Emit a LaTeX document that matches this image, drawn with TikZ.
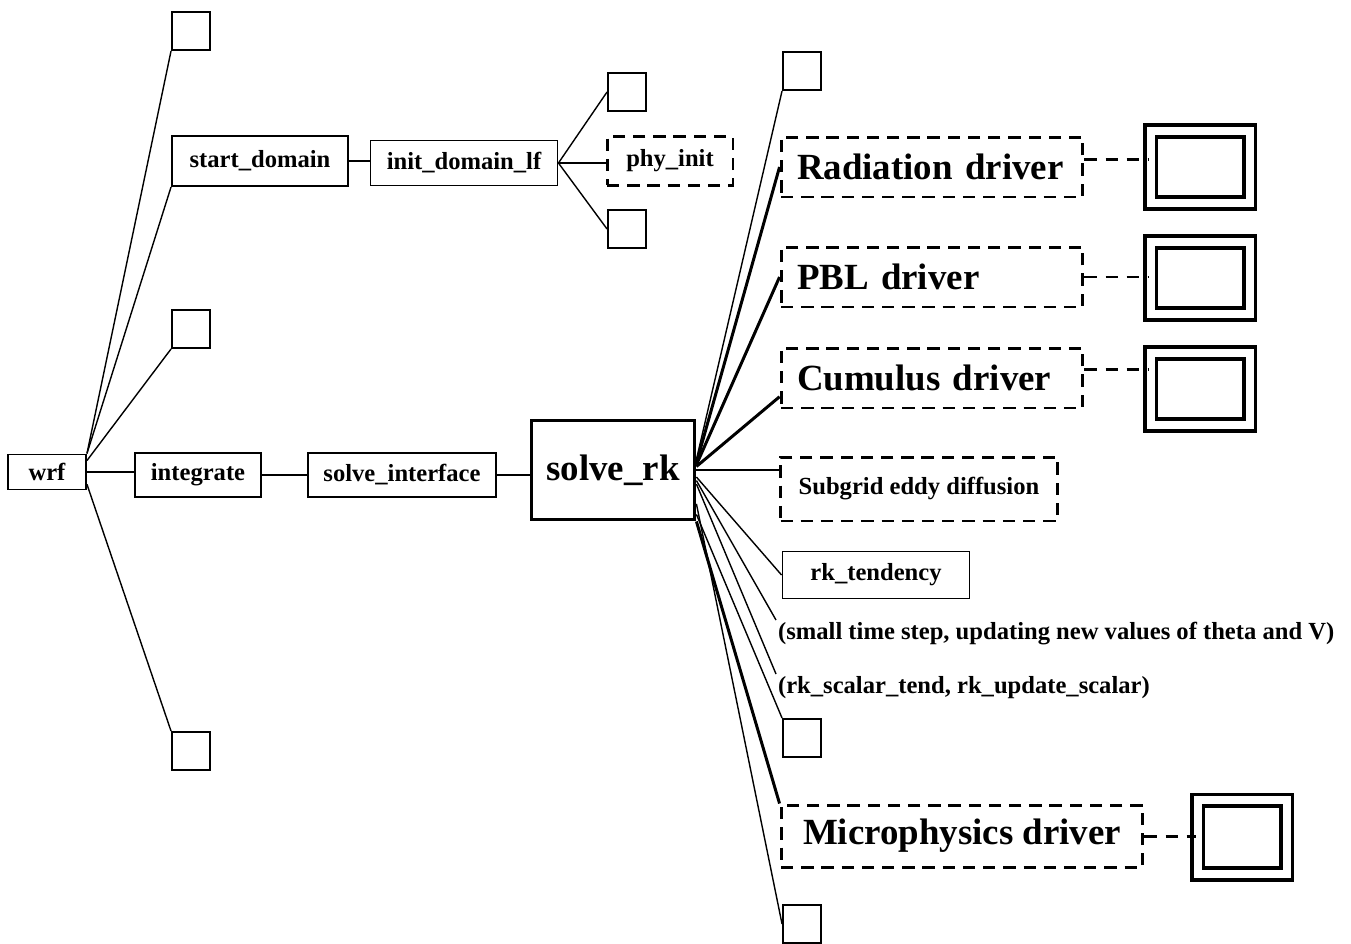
\documentclass[tikz,border=0pt]{standalone}
\usepackage{fontspec}
\setmainfont{Liberation Serif}
\tikzset{lbl/.style={font=\fontsize{14}{16}\selectfont\bfseries},
  big/.style={font=\fontsize{21}{24}\selectfont\bfseries},
  box/.style={draw, line width=1.1pt, inner sep=0pt, lbl},
  sq/.style={draw, line width=1.1pt, minimum size=0.76cm, inner sep=0pt},
  dbox/.style={draw, line width=1.7pt, dash pattern=on 7pt off 4.5pt, inner sep=0pt},
  drv/.style={dbox, big, minimum height=1.2cm, text width=5.4cm, inner xsep=0.32cm, align=left},
  dbl/.style={draw, double, line width=2pt, double distance=0.16cm, inner sep=0pt},
  link/.style={line width=0.8pt},
  heavy/.style={line width=1.7pt},
  dlink/.style={line width=1.7pt, dash pattern=on 7pt off 5pt}}

\begin{document}
\begin{tikzpicture}[x=0.02cm, y=-0.02cm]
  \useasboundingbox (0,0) rectangle (1351,943);
  % left part of the call tree
  \node[box, minimum width=1.56cm, minimum height=0.70cm] (wrf) at (47,472) {wrf};
  \node[sq] (sq1) at (191,31) {};
  \node[box, minimum width=3.52cm, minimum height=1.0cm] (start) at (260,161) {start\_domain};
  \node[box, minimum width=3.74cm, minimum height=0.9cm] (initlf) at (464,163) {init\_domain\_lf};
  \node[sq] (sq2) at (627,92) {};
  \node[dbox, lbl, minimum width=2.52cm, minimum height=0.98cm] (phyinit) at (670,161) {phy\_init};
  \node[sq] (sq3) at (627,229) {};
  \node[sq] (sq4) at (191,329) {};
  \node[box, minimum width=2.52cm, minimum height=0.88cm] (integ) at (198,475) {integrate};
  \node[box, minimum width=3.76cm, minimum height=0.88cm] (solveif) at (402,475) {solve\_interface};
  \node[sq] (sq5) at (191,751) {};
  \node[draw, line width=2.2pt, big, minimum width=3.26cm, minimum height=1.98cm, inner sep=0pt] (rk) at (613,470) {solve\_rk};

  \draw[link] (wrf.north east) -- (sq1.south west);
  \draw[link] (wrf.north east) -- (start.south west);
  \draw[link] ([yshift=-4pt]wrf.north east) -- (sq4.south west);
  \draw[link] (wrf.east) -- (wrf.east -| integ.west);
  \draw[link] ([yshift=-7pt]wrf.east) -- (sq5.north west);
  \draw[link] (start.east) -- (start.east -| initlf.west);
  \draw[link] (initlf.east) -- (sq2.west);
  \draw[link] (initlf.east) -- (initlf.east -| phyinit.west);
  \draw[link] (initlf.east) -- (sq3.west);
  \draw[link] (integ.east) -- (integ.east -| solveif.west);
  \draw[link] (solveif.east) -- (solveif.east -| rk.west);

  % right part: physics drivers
  \node[sq] (sq6) at (802,71) {};
  \node[drv] (rad) at (932,167) {Radiation driver};
  \node[drv] (pbl) at (932,277) {PBL driver};
  \node[drv] (cum) at (932,378) {Cumulus driver};
  \node[dbox, lbl, minimum width=5.54cm, minimum height=1.28cm] (sgs) at (919,489) {Subgrid eddy diffusion};
  \node[box, minimum width=3.74cm, minimum height=0.94cm] (tend) at (876,575) {rk\_tendency};
  \node[lbl, anchor=north west, inner sep=1pt] (small) at (776,620) {(small time step, updating new values of theta and V)};
  \node[lbl, anchor=north west, inner sep=1pt] (scalar) at (776,674) {(rk\_scalar\_tend, rk\_update\_scalar)};
  \node[sq] (sq7) at (802,738) {};
  \node[dbox, big, minimum width=7.24cm, minimum height=1.24cm] (micro) at (962,836) {Microphysics driver};
  \node[sq] (sq8) at (802,924) {};

  \node[dbl, minimum width=1.98cm, minimum height=1.44cm] (rbox) at (1200,167) {};
  \node[dbl, minimum width=1.98cm, minimum height=1.44cm] (pbox) at (1200,278) {};
  \node[dbl, minimum width=1.98cm, minimum height=1.44cm] (cbox) at (1200,389) {};
  \node[dbl, minimum width=1.78cm, minimum height=1.48cm] (mbox) at (1242,837) {};

  \draw[link] ([yshift=6pt]rk.east) -- (sq6.south west);
  \draw[heavy] ([yshift=4pt]rk.east) -- (rad.west);
  \draw[heavy] ([yshift=3pt]rk.east) -- (pbl.west);
  \draw[heavy] ([yshift=2pt]rk.east) -- (cum.187);
  \draw[link] (rk.east) -- (rk.east -| sgs.west);
  \draw[link] ([yshift=-4pt]rk.east) -- (tend.west);
  \draw[link] ([yshift=-6pt]rk.east) -- (small.north west);
  \draw[link] ([yshift=-8pt]rk.east) -- (scalar.north west);
  \draw[link] ([yshift=4pt]rk.south east) -- (sq7.north west);
  \draw[heavy] (rk.south east) -- (micro.north west);
  \draw[link] ([yshift=10pt]rk.south east) -- (sq8.west);

  \draw[dlink] ([yshift=4pt]rad.east) -- ([yshift=4pt]rad.east -| rbox.west);
  \draw[dlink] (pbl.east) -- (pbl.east -| pbox.west);
  \draw[dlink] ([yshift=5pt]cum.east) -- ([yshift=5pt]cum.east -| cbox.west);
  \draw[dlink] (micro.east) -- (micro.east -| mbox.west);
\end{tikzpicture}
\end{document}
